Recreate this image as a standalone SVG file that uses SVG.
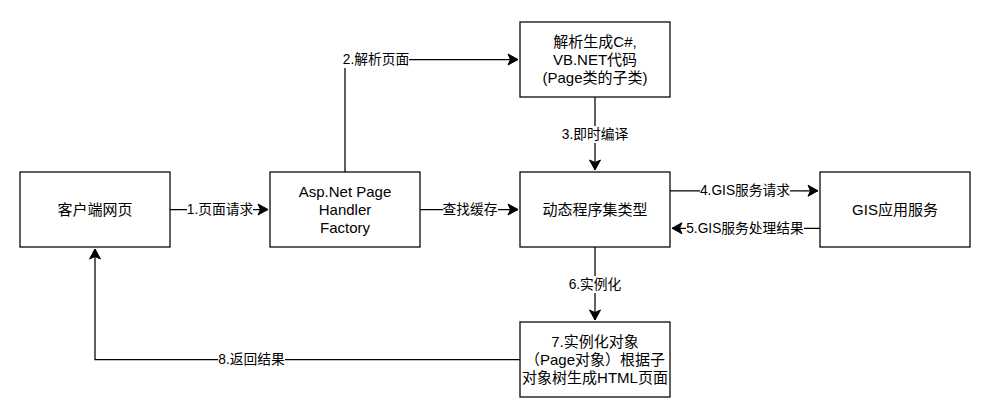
<svg xmlns="http://www.w3.org/2000/svg" width="994" height="414" viewBox="0 0 994 414">
<defs>
<style>
.box{fill:#fff;stroke:#000;stroke-width:1.25}
.t{font-family:"Liberation Sans","Noto Sans CJK SC",sans-serif;font-size:15px;fill:#000;text-anchor:middle;dominant-baseline:central}
.lbl{font-family:"Liberation Sans","Noto Sans CJK SC",sans-serif;font-size:13.75px;fill:#000;text-anchor:middle;dominant-baseline:central}
.edge{fill:none;stroke:#000;stroke-width:1.25}
.bg{fill:#fff}
</style>
<marker id="arr" markerUnits="userSpaceOnUse" markerWidth="14" markerHeight="14" viewBox="-11 -7 12 14" refX="0" refY="0" orient="auto">
<path d="M0,0 L-10,-5.5 L-7.5,0 L-10,5.5 Z" fill="#000" stroke="#000" stroke-width="1"/>
</marker>
</defs>
<rect width="994" height="414" fill="#fff"/>
<g id="connectors">
<path class="edge" d="M170,209.5 L268,209.5" marker-end="url(#arr)"/>
<path class="edge" d="M345,172 L345,59.5 L518,59.5" marker-end="url(#arr)"/>
<path class="edge" d="M595,97 L595,170" marker-end="url(#arr)"/>
<path class="edge" d="M420,209.5 L518,209.5" marker-end="url(#arr)"/>
<path class="edge" d="M670,190.75 L818,190.75" marker-end="url(#arr)"/>
<path class="edge" d="M820,228.25 L672,228.25" marker-end="url(#arr)"/>
<path class="edge" d="M595,247 L595,320" marker-end="url(#arr)"/>
<path class="edge" d="M520,359.5 L95,359.5 L95,249" marker-end="url(#arr)"/>
<rect class="bg" x="187" y="201" width="66" height="17"/>
<text class="lbl" x="220" y="209.5">1.页面请求</text>
<rect class="bg" x="343" y="51" width="66" height="17"/>
<text class="lbl" x="376" y="59.5">2.解析页面</text>
<rect class="bg" x="562" y="126" width="66" height="17"/>
<text class="lbl" x="595" y="134.5">3.即时编译</text>
<rect class="bg" x="443" y="201" width="55" height="17"/>
<text class="lbl" x="470" y="209.5">查找缓存</text>
<rect class="bg" x="700" y="182" width="90" height="17"/>
<text class="lbl" x="745" y="190.75">4.GIS服务请求</text>
<rect class="bg" x="686" y="220" width="118" height="17"/>
<text class="lbl" x="745" y="228.25">5.GIS服务处理结果</text>
<rect class="bg" x="569" y="276" width="52" height="17"/>
<text class="lbl" x="595" y="284.5">6.实例化</text>
<rect class="bg" x="218" y="351" width="67" height="17"/>
<text class="lbl" x="251.5" y="359.5">8.返回结果</text>
</g>
<g id="node-client">
<rect class="box" x="20" y="172" width="150" height="75"/>
<text class="t" x="95" y="209.5">客户端网页</text>
</g>
<g id="node-handler">
<rect class="box" x="270" y="172" width="150" height="75"/>
<text class="t" x="345" y="191.5">Asp.Net Page</text>
<text class="t" x="345" y="209.5">Handler</text>
<text class="t" x="345" y="227.5">Factory</text>
</g>
<g id="node-parse">
<rect class="box" x="520" y="22" width="150" height="75"/>
<text class="t" x="595" y="41.5">解析生成C#,</text>
<text class="t" x="595" y="59.5">VB.NET代码</text>
<text class="t" x="595" y="77.5">(Page类的子类)</text>
</g>
<g id="node-assembly">
<rect class="box" x="520" y="172" width="150" height="75"/>
<text class="t" x="595" y="209.5">动态程序集类型</text>
</g>
<g id="node-gis">
<rect class="box" x="820" y="172" width="150" height="75"/>
<text class="t" x="895" y="209.5">GIS应用服务</text>
</g>
<g id="node-instance">
<rect class="box" x="520" y="322" width="150" height="75"/>
<text class="t" x="595" y="341.5">7.实例化对象</text>
<text class="t" x="595" y="359.5">（Page对象）根据子</text>
<text class="t" x="595" y="377.5">对象树生成HTML页面</text>
</g>
</svg>
